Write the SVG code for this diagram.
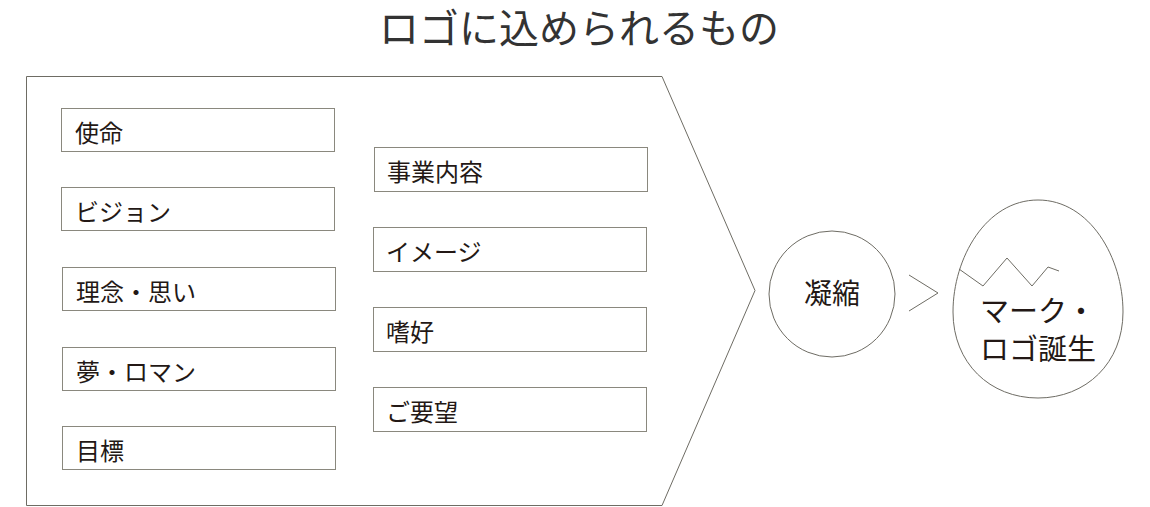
<svg xmlns="http://www.w3.org/2000/svg" width="1150" height="507" viewBox="0 0 1150 507">
<style>
.t{font-family:"Noto Sans CJK JP","Noto Sans",sans-serif;fill:#231815}
.box{fill:#fff;stroke:#8a887e;stroke-width:1}
.lbl{font-size:24px;dominant-baseline:central}
.ln{fill:none;stroke:#6e6c64;stroke-width:1}
</style>
<rect width="1150" height="507" fill="#fff"/>
<text class="t" x="579" y="43" font-size="40" text-anchor="middle" style="fill:#333333">ロゴに込められるもの</text>
<g id="frame"><path class="ln" d="M26.5,76.5 H662 L755,290.5 L662,505.5 H26.5 Z"/></g>
<g id="n1"><rect class="box" x="61.5" y="108.5" width="273" height="43"/><text class="t lbl" x="75" y="131">使命</text></g>
<g id="n2"><rect class="box" x="61.5" y="187.5" width="273" height="43"/><text class="t lbl" x="75" y="210">ビジョン</text></g>
<g id="n3"><rect class="box" x="62.5" y="267.5" width="273" height="43"/><text class="t lbl" x="76" y="290">理念・思い</text></g>
<g id="n4"><rect class="box" x="62.5" y="347.5" width="273" height="43"/><text class="t lbl" x="76" y="370">夢・ロマン</text></g>
<g id="n5"><rect class="box" x="62.5" y="426.5" width="273" height="43"/><text class="t lbl" x="76" y="449">目標</text></g>
<g id="n6"><rect class="box" x="374.5" y="147.5" width="273" height="44"/><text class="t lbl" x="387" y="170.5">事業内容</text></g>
<g id="n7"><rect class="box" x="373.5" y="227.5" width="273" height="44"/><text class="t lbl" x="386" y="250.5">イメージ</text></g>
<g id="n8"><rect class="box" x="373.5" y="307.5" width="273" height="44"/><text class="t lbl" x="386" y="330.5">嗜好</text></g>
<g id="n9"><rect class="box" x="373.5" y="387.5" width="273" height="44"/><text class="t lbl" x="386" y="410.5">ご要望</text></g>
<g id="condense"><circle class="ln" cx="832" cy="294" r="63"/><text class="t" x="832" y="292" font-size="28" text-anchor="middle" dominant-baseline="central">凝縮</text></g>
<g id="connectors"><path class="ln" d="M909,275 L938,293 L909,311"/></g>
<g id="egg">
<path class="ln" d="M1038,200 C1090,200 1123,258 1123,312 C1123,363 1086,398 1038,398 C990,398 953,363 953,312 C953,258 986,200 1038,200 Z"/>
<path class="ln" d="M959,269 L983,286 L1007,258 L1032,286 L1048,267 L1059,271"/>
<text class="t" x="980" y="322" font-size="29">マーク・</text>
<text class="t" x="980" y="360" font-size="29">ロゴ誕生</text>
</g>
</svg>
